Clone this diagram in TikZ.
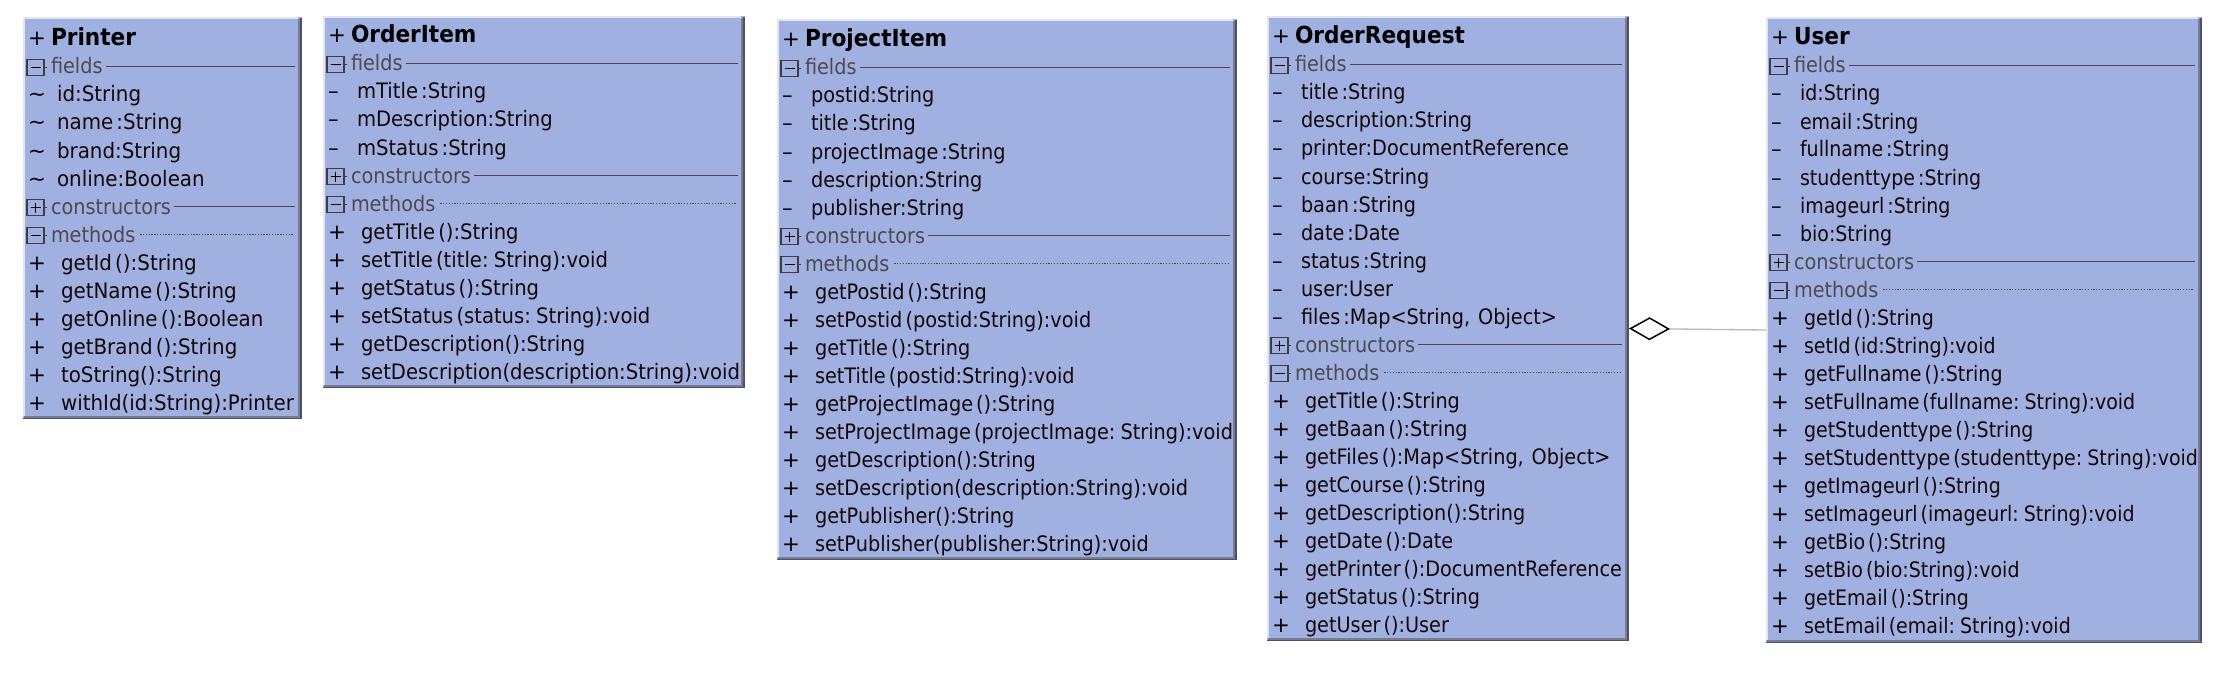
\documentclass[tikz,border=0pt]{standalone}
\usepackage{fontspec}
\usepackage{graphicx}
\usetikzlibrary{arrows.meta,calc}
\newfontfamily\umlfont[WordSpace=0.5]{DejaVu Sans}
\definecolor{boxfill}{RGB}{160,176,225}
\definecolor{boxlight}{RGB}{225,230,246}
\definecolor{boxshadowA}{RGB}{78,82,100}
\definecolor{boxshadowB}{RGB}{118,124,150}
\definecolor{secgray}{RGB}{74,74,80}
\definecolor{sqgray}{RGB}{62,62,66}
\definecolor{txtcol}{RGB}{18,8,10}
\newlength\umlw
\newcounter{rowc}
\tikzset{
  x=1pt, y=-1pt,
  classnode/.style={draw=none, fill=boxfill, inner sep=0pt, outer sep=0pt, rectangle},
  sgn/.style={anchor=base west, inner sep=0pt, outer sep=0pt, font=\umlfont\fontsize{21.3}{24}\selectfont, text=black},
  txt/.style={anchor=base west, inner sep=0pt, outer sep=0pt, font=\umlfont\fontsize{21.3}{24}\selectfont, text=txtcol},
  ttl/.style={anchor=base west, inner sep=0pt, outer sep=0pt, font=\umlfont\bfseries\fontsize{23.5}{26}\selectfont, text=black},
  sec/.style={anchor=base west, inner sep=0pt, outer sep=0pt, font=\umlfont\fontsize{21.3}{24}\selectfont, text=secgray},
  secline/.style={draw=secgray, line width=1.4pt},
  secdots/.style={draw=secgray, line width=1.2pt, dash pattern=on 1.3pt off 1.5pt},
  secsq/.style={draw=sqgray, line width=1.4pt},
  secmark/.style={draw=black, line width=1.5pt},
  aggline/.style={draw=black!28, line width=1.3pt},
}
% #1 name, #2 L, #3 T, #4 R, #5 B, #6 title baseline, #7 title, #8 scale macro
\newcommand\classbox[8]{%
  \def\BL{#2}\def\BR{#4}\let\sx#8%
  \pgfmathsetmacro\bw{#4-#2}\pgfmathsetmacro\bh{#5-#3}%
  \node[classnode, minimum width=\bw pt, minimum height=\bh pt, anchor=north west] (#1) at (#2,#3) {};
  \draw[boxlight, line width=1.6pt] (#2+0.8,#5-3) -- (#2+0.8,#3+0.8) -- (#4-4,#3+0.8);
  \fill[boxshadowB] (#4-4,#3+2) rectangle (#4-2,#5-3);
  \fill[boxshadowA] (#4-2,#3+1) rectangle (#4,#5);
  \fill[boxshadowB] (#2+1,#5-3) rectangle (#4-2,#5-1.5);
  \fill[boxshadowA] (#2,#5-1.5) rectangle (#4,#5);
  \node[sgn] (#1-ts) at (#2+5,#6) {+};
  \node[ttl] (#1-tt) at (#2+28,#6) {\scalebox{\sxb}[1]{#7}};
  \pgfmathsetmacro\cy{#6}}
% field row: #1 sign, #2 text
\newcommand\frow[2]{%
  \pgfmathsetmacro\cy{\cy+28}\stepcounter{rowc}%
  \node[sgn] (sg\arabic{rowc}) at (\BL+5,\cy) {#1};
  \node[txt] (rw\arabic{rowc}) at (\BL+34,\cy) {\scalebox{\sx}[1]{#2}};}
% method row
\newcommand\mrow[1]{%
  \pgfmathsetmacro\cy{\cy+28}\stepcounter{rowc}%
  \node[sgn] (sg\arabic{rowc}) at (\BL+5,\cy) {+};
  \node[txt] (rw\arabic{rowc}) at (\BL+38,\cy) {\scalebox{\sx}[1]{#1}};}
% section row: #1 label, #2 1=plus, #3 1=dotted
\newcommand\secrow[3]{%
  \pgfmathsetmacro\cy{\cy+28}\stepcounter{rowc}%
  \draw[secsq] (\BL+4,\cy-14.5) rectangle (\BL+21,\cy+1.5);
  \draw[secsq] (\BL+21,\cy-6.5) -- (\BL+24,\cy-6.5);
  \draw[secmark] (\BL+7.5,\cy-6.5) -- (\BL+17.5,\cy-6.5);
  \ifnum#2=1 \draw[secmark] (\BL+12.5,\cy-11.5) -- (\BL+12.5,\cy-1.5);\fi
  \node[sec] (sc\arabic{rowc}) at (\BL+28,\cy) {\scalebox{\sxl}[1]{#1}};
  \ifnum#3=1 \draw[secdots] ([xshift=5pt,yshift=7.5pt]sc\arabic{rowc}.base east) -- (\BR-9,\cy-7.5);
  \else \draw[secline] ([xshift=3pt,yshift=7.5pt]sc\arabic{rowc}.base east) -- (\BR-7,\cy-7.5);\fi}
\newcommand\tl{\textasciitilde}
\newcommand\ms{–}
\newcommand\calib[3]{%
  \settowidth\umlw{\umlfont\fontsize{21.3}{24}\selectfont #2}%
  \pgfmathsetmacro#1{#3/\umlw}}
\begin{document}
\calib\sxP{withId(id:String):Printer}{233}%
\calib\sxO{setDescription(description:String):void}{379}%
\calib\sxJ{setProjectImage (projectImage: String):void}{418}%
\calib\sxR{getPrinter ():DocumentReference}{317}%
\calib\sxU{setStudenttype (studenttype: String):void}{394}%
\calib\sxl{constructors}{120}%
\settowidth\umlw{\umlfont\bfseries\fontsize{23.5}{26}\selectfont OrderRequest}%
\pgfmathsetmacro\sxb{170/\umlw}%
\begin{tikzpicture}
\useasboundingbox[fill=white] (0,0) rectangle (2240,682);

% Printer
\classbox{printer}{23}{17}{302}{419}{46}{Printer}{\sxP}
\secrow{fields}{0}{0}
\frow{\tl}{id:String}
\frow{\tl}{name :String}
\frow{\tl}{brand:String}
\frow{\tl}{online:Boolean}
\secrow{constructors}{1}{0}
\secrow{methods}{0}{1}
\mrow{getId ():String}
\mrow{getName ():String}
\mrow{getOnline ():Boolean}
\mrow{getBrand ():String}
\mrow{toString():String}
\mrow{withId(id:String):Printer}

% OrderItem
\classbox{orderitem}{323}{16}{745}{388}{43}{OrderItem}{\sxO}
\secrow{fields}{0}{0}
\frow{\ms}{mTitle :String}
\frow{\ms}{mDescription:String}
\frow{\ms}{mStatus :String}
\secrow{constructors}{1}{0}
\secrow{methods}{0}{1}
\mrow{getTitle ():String}
\mrow{setTitle (title: String):void}
\mrow{getStatus ():String}
\mrow{setStatus (status: String):void}
\mrow{getDescription():String}
\mrow{setDescription(description:String):void}

% ProjectItem
\classbox{projectitem}{777}{19}{1237}{560}{47}{ProjectItem}{\sxJ}
\secrow{fields}{0}{0}
\frow{\ms}{postid:String}
\frow{\ms}{title :String}
\frow{\ms}{projectImage :String}
\frow{\ms}{description:String}
\frow{\ms}{publisher:String}
\secrow{constructors}{1}{0}
\secrow{methods}{0}{1}
\mrow{getPostid ():String}
\mrow{setPostid (postid:String):void}
\mrow{getTitle ():String}
\mrow{setTitle (postid:String):void}
\mrow{getProjectImage ():String}
\mrow{setProjectImage (projectImage: String):void}
\mrow{getDescription():String}
\mrow{setDescription(description:String):void}
\mrow{getPublisher():String}
\mrow{setPublisher(publisher:String):void}

% OrderRequest
\classbox{orderreq}{1267}{16}{1629}{641}{44}{OrderRequest}{\sxR}
\secrow{fields}{0}{0}
\frow{\ms}{title :String}
\frow{\ms}{description:String}
\frow{\ms}{printer:DocumentReference}
\frow{\ms}{course:String}
\frow{\ms}{baan :String}
\frow{\ms}{date :Date}
\frow{\ms}{status :String}
\frow{\ms}{user:User}
\frow{\ms}{files :Map<String, \hspace{0.25em}Object>}
\secrow{constructors}{1}{0}
\secrow{methods}{0}{1}
\mrow{getTitle ():String}
\mrow{getBaan ():String}
\mrow{getFiles ():Map<String, \hspace{0.25em}Object>}
\mrow{getCourse ():String}
\mrow{getDescription():String}
\mrow{getDate ():Date}
\mrow{getPrinter ():DocumentReference}
\mrow{getStatus ():String}
\mrow{getUser ():User}

% User
\classbox{user}{1766}{17}{2202}{643}{45}{User}{\sxU}
\secrow{fields}{0}{0}
\frow{\ms}{id:String}
\frow{\ms}{email :String}
\frow{\ms}{fullname :String}
\frow{\ms}{studenttype :String}
\frow{\ms}{imageurl :String}
\frow{\ms}{bio:String}
\secrow{constructors}{1}{0}
\secrow{methods}{0}{1}
\mrow{getId ():String}
\mrow{setId (id:String):void}
\mrow{getFullname ():String}
\mrow{setFullname (fullname: String):void}
\mrow{getStudenttype ():String}
\mrow{setStudenttype (studenttype: String):void}
\mrow{getImageurl ():String}
\mrow{setImageurl (imageurl: String):void}
\mrow{getBio ():String}
\mrow{setBio (bio:String):void}
\mrow{getEmail ():String}
\mrow{setEmail (email: String):void}

% aggregation
\draw[aggline, -{Diamond[length=41pt,width=23pt,fill=white,color=black,line width=1.5pt]}] (user.west) -- (orderreq.east);
\end{tikzpicture}
\end{document}
